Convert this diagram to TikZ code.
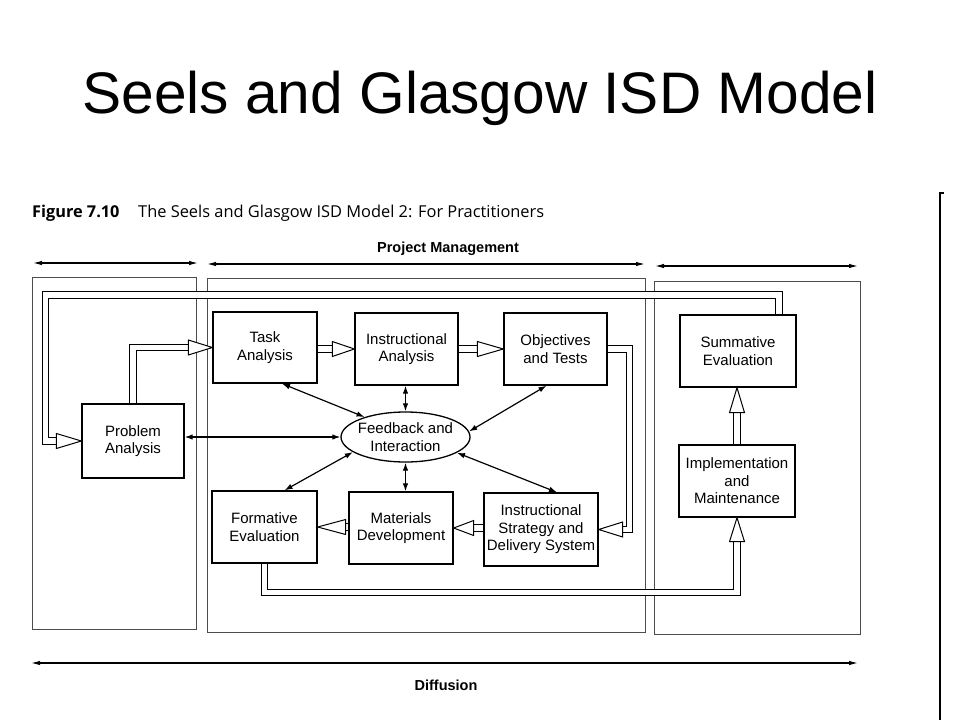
\documentclass[tikz,border=0pt]{standalone}
\usepackage{fontspec}
\setmainfont{Liberation Sans}
\newfontfamily\capfont{Open Sans}
\usetikzlibrary{arrows.meta,calc,shapes.geometric}
\newcommand\hhR[2][24]{\draw[hh] (#2) -- ++(-#1,-7.5) -- ++(0,15) -- cycle;}
\newcommand\hhL[2][24]{\draw[hh] (#2) -- ++(#1,-7.5) -- ++(0,15) -- cycle;}
\newcommand\hhU[2][24]{\draw[hh] (#2) -- ++(-7.5,#1) -- ++(15,0) -- cycle;}
\begin{document}
\begin{tikzpicture}[x=1pt,y=-1pt,
  box/.style={draw,line width=1.3pt,inner sep=0pt,align=center,font=\fontsize{15}{17.5}\selectfont},
  lbl/.style={inner sep=0pt,align=center,font=\fontsize{15}{17.5}\selectfont},
  panel/.style={draw=black!70,line width=0.8pt},
  dbl/.style={draw=black,double=white,double distance=5.5pt,line width=1pt,line join=miter},
  hh/.style={draw=black,fill=white,line width=1pt,line join=miter},
  fb/.style={{Latex[length=8pt,width=5.5pt]}-{Latex[length=8pt,width=5.5pt]},line width=1.2pt},
  spanarrow/.style={{Latex[length=9pt,width=4.5pt]}-{Latex[length=9pt,width=4.5pt]},line width=1.2pt},
]
\fill[white] (0,0) rectangle (960,720);
\useasboundingbox (0,0) rectangle (960,720);

% title
\node[anchor=base,inner sep=0pt,font=\fontsize{58.6}{60}\selectfont] (title) at (480,113) {Seels and Glasgow ISD Model};

% caption
\node[anchor=base west,inner sep=0pt,font=\capfont\bfseries\fontsize{16.3}{18}\selectfont] (figno) at (32,217) {Figure 7.10};
\node[anchor=base west,inner sep=0pt,font=\capfont\fontsize{16.4}{18}\selectfont] (cap) at (138,217) {The Seels and Glasgow ISD Model 2: For Practitioners};

% right border line
\draw[line width=2.5pt] (944,193) -- (940,193) -- (940,720);

% span arrows
\coordinate (s1a) at (33,263); \coordinate (s1b) at (198,263);
\coordinate (s2a) at (207,264); \coordinate (s2b) at (645,264);
\coordinate (s3a) at (655,266); \coordinate (s3b) at (858,266);
\draw[spanarrow] (s1a) -- (s1b);
\draw[spanarrow] (s2a) -- (s2b);
\draw[spanarrow] (s3a) -- (s3b);
\node[anchor=base,inner sep=0pt,font=\bfseries\fontsize{14.5}{16}\selectfont] (pm) at (448,252) {Project Management};

\coordinate (d1) at (31,663); \coordinate (d2) at (858,663);
\draw[spanarrow] (d1) -- (d2);
\node[anchor=base,inner sep=0pt,font=\bfseries\fontsize{14.5}{16}\selectfont] (diff) at (446,690) {Diffusion};

% panels
\draw[panel] (32,277) rectangle (196,629);
\draw[panel] (207,278) rectangle (645,632);
\draw[panel] (654,281) rectangle (860,634);

% nodes
\node[box,minimum width=102pt,minimum height=74pt] (PA) at (133,441) {Problem\\Analysis};
\node[box,minimum width=104pt,minimum height=71pt] (TA) at (265,347.5) {Task\\Analysis};
\node[box,minimum width=103pt,minimum height=72pt] (IA) at (406.5,349) {Instructional\\Analysis};
\node[box,minimum width=103pt,minimum height=72pt] (OT) at (555.5,349) {Objectives\\and Tests};
\node[box,minimum width=116pt,minimum height=72pt] (SE) at (738,351) {Summative\\Evaluation};
\node[box,minimum width=105pt,minimum height=72pt] (FE) at (264.5,527) {Formative\\Evaluation};
\node[box,minimum width=104pt,minimum height=72pt] (MD) at (401,528) {Materials\\Development};
\node[box,minimum width=114pt,minimum height=73pt] (ISDS) at (541,529.5) {Instructional\\Strategy and\\Delivery System};
\node[box,minimum width=116pt,minimum height=72pt] (IM) at (737,481) {Implementation\\and\\Maintenance};
\node[ellipse,draw,line width=1.3pt,inner sep=0pt,minimum width=129pt,minimum height=50pt] (E) at (405.5,437) {};
\node[lbl] (Et) at (E.center) {Feedback and\\Interaction};

% feedback arrows
\draw[fb] ($(TA.south)+(17,0)$) -- (E.154);
\draw[fb] (IA.south -| E.north) -- (E.north);
\draw[fb] ($(OT.south)+(-9,0)$) -- (E.5);
\draw[fb] (E.west -| PA.east) -- (E.west);
\draw[fb] ($(FE.north)+(20,0)$) -- (E.196);
\draw[fb] (MD.north -| E.south) -- (E.south);
\draw[fb] ($(ISDS.north)+(16,0)$) -- (E.343);

% hollow flow arrows
\draw[dbl] (PA.north) |- ($(TA.west)+(-24,0)$);
\hhR{TA.west}
\draw[dbl] (TA.east |- IA.west) -- ($(IA.west)+(-22,0)$);
\hhR[22]{IA.west}
\draw[dbl] (IA.east) -- ($(OT.west)+(-26,0)$);
\hhR[26]{OT.west}
\draw[dbl] (OT.east) -| ($(ISDS.east)+(31,0)$) -- ($(ISDS.east)+(24,0)$);
\hhL{ISDS.east}
\draw[dbl] (ISDS.west |- MD.east) -- ($(MD.east)+(20,0)$);
\hhL[20]{MD.east}
\draw[dbl] (MD.west |- FE.east) -- ($(FE.east)+(28,0)$);
\hhL[28]{FE.east}
\draw[dbl] (FE.south) |- ($(IM.south)+(0,75)$) -- ($(IM.south)+(0,24)$);
\hhU{IM.south}
\coordinate (SEin) at (IM.north |- SE.south);
\draw[dbl] (IM.north) -- ($(SEin)+(0,25)$);
\hhU[25]{SEin}
\coordinate (LTL) at (45.5,295);
\draw[dbl] ($(SE.north)+(41,0)$) |- (LTL) |- ($(PA.west)+(-25,0)$);
\hhR[25]{PA.west}
\end{tikzpicture}
\end{document}
